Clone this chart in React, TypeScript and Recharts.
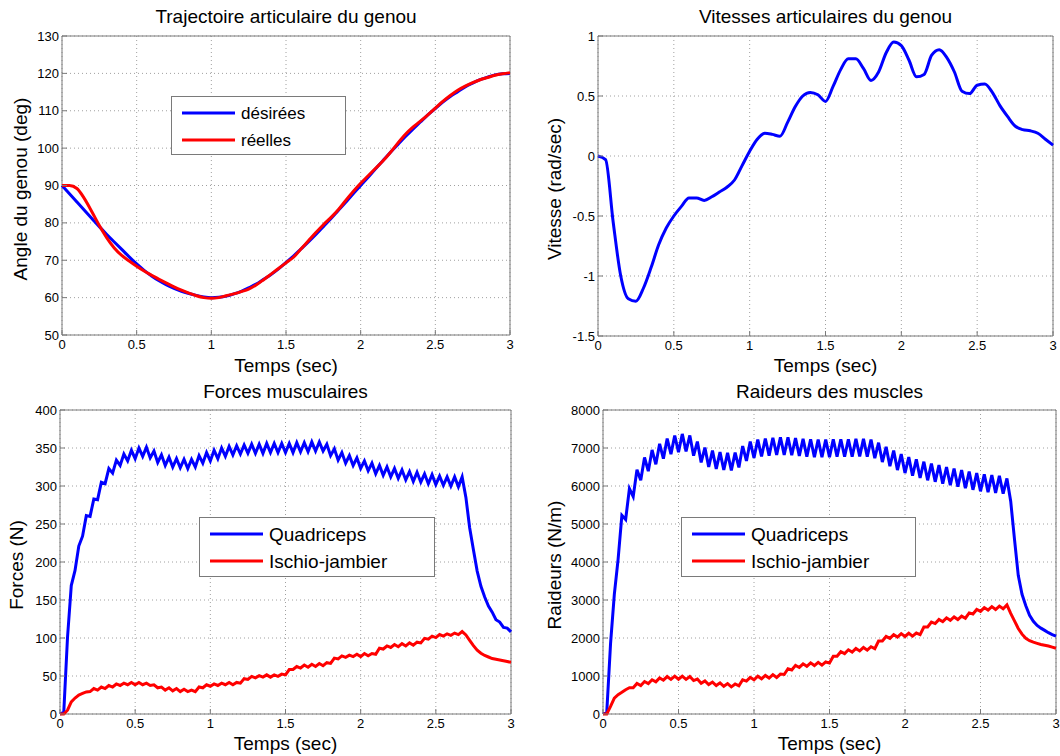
import React from 'react';
import { LineChart, Line, XAxis, YAxis, CartesianGrid, ReferenceArea, Legend } from 'recharts';

const FONT = '"Liberation Sans", Arial, Helvetica, sans-serif';

// ---- tick labels ----
const timeTicks = [0, 0.5, 1, 1.5, 2, 2.5, 3];
const angleTicks = [50, 60, 70, 80, 90, 100, 110, 120, 130];
const velocityTicks = [-1.5, -1, -0.5, 0, 0.5, 1];
const forceTicks = [0, 50, 100, 150, 200, 250, 300, 350, 400];
const stiffTicks = [0, 1000, 2000, 3000, 4000, 5000, 6000, 7000, 8000];

// sampling steps of the series (seconds)
const COARSE_STEP = 0.05;
const FINE_STEP = 0.025;

// ---- knee angle (deg), every 0.05 s ----
const angleDesired = [
  90, 87.8, 85.6, 83.4, 81.2, 79, 76.9, 74.9, 72.9, 70.9,
  69.0, 67.3, 65.8, 64.5, 63.4, 62.5, 61.7, 61.1, 60.6, 60.2,
  60, 60.1, 60.4, 61.0, 61.7, 62.6, 63.6, 64.9, 66.2, 67.7,
  69.4, 71.1, 73.0, 74.9, 76.9, 79.0, 81.1, 83.3, 85.5, 87.8,
  90, 92.2, 94.5, 96.7, 98.9, 101, 103.1, 105.1, 107, 108.9,
  110.6, 112.3, 113.8, 115.1, 116.4, 117.4, 118.3, 119, 119.6, 119.9,
  120,
];
const angleActual = [
  90, 90, 89.2, 86.5, 83, 79.3, 76, 73.3, 71.3, 69.8,
  68.4, 67.1, 66, 64.9, 63.9, 62.9, 62, 61.2, 60.5, 60,
  59.8, 60, 60.5, 61, 61.6, 62.3, 63.4, 64.8, 66.3, 67.8,
  69.3, 70.8, 73, 75.2, 77.4, 79.5, 81.4, 83.5, 86, 88.4,
  90.6, 92.6, 94.6, 96.6, 98.9, 101.4, 103.7, 105.6, 107.2, 108.9,
  110.7, 112.5, 114.1, 115.5, 116.6, 117.5, 118.3, 118.9, 119.5, 119.9,
  120.2,
];

// ---- knee velocity (rad/sec), every 0.05 s ----
const velocity = [
  0, -0.03, -0.55, -1.0, -1.19, -1.21, -1.1, -0.93, -0.74, -0.6,
  -0.5, -0.42, -0.35, -0.35, -0.37, -0.34, -0.3, -0.26, -0.2, -0.08,
  0.04, 0.14, 0.19, 0.18, 0.165, 0.28, 0.41, 0.5, 0.53, 0.51,
  0.455, 0.58, 0.72, 0.81, 0.81, 0.73, 0.63, 0.7, 0.86, 0.95,
  0.92, 0.8, 0.66, 0.68, 0.84, 0.885, 0.82, 0.7, 0.54, 0.52,
  0.59, 0.6, 0.53, 0.42, 0.33, 0.25, 0.22, 0.21, 0.19, 0.14,
  0.09,
];

// ---- muscle forces (N), every 0.025 s ----
const quadForce = [
  0, 2, 101, 169, 189, 221, 234, 261, 260, 283,
  282, 305, 303, 323, 317, 334, 327, 342, 333, 347,
  336, 350, 339, 351, 337, 346, 331, 341, 327, 338,
  325, 336, 324, 335, 323, 335, 325, 340, 330, 344,
  333, 347, 336, 350, 339, 352, 341, 353, 342, 354,
  343, 355, 343, 355, 343, 356, 344, 356, 344, 356,
  344, 356, 344, 357, 345, 357, 345, 358, 346, 358,
  346, 355, 340, 349, 334, 344, 330, 340, 327, 337,
  323, 333, 320, 330, 316, 327, 314, 325, 312, 323,
  310, 321, 308, 319, 306, 318, 305, 316, 303, 315,
  302, 313, 301, 312, 300, 312, 299, 312, 285, 245,
  216, 188, 168, 154, 142, 134, 124, 121, 114, 113,
  108,
];
const ischioForce = [
  0, 0, 5, 16, 21, 25, 27, 29, 29.5, 33.5,
  31.5, 35.5, 33.5, 37.5, 35.5, 39.5, 37.5, 40.5, 38.5, 41.5,
  38.5, 41.5, 38.5, 40.5, 37.5, 38.5, 34.5, 35.5, 31.5, 34.5,
  30.5, 33.5, 29.5, 32.5, 29.5, 31.5, 29.5, 35.5, 34.5, 38.5,
  36.5, 39.5, 37.5, 40.5, 38.5, 41.5, 38.5, 41.5, 40.5, 46.5,
  45.5, 49.5, 47.5, 50.5, 48.5, 51.5, 48.5, 51.5, 49.5, 52.5,
  51.5, 58.5, 58.5, 62.5, 60.5, 64.5, 61.5, 65.5, 62.5, 66.5,
  63.5, 67.5, 66.5, 73.5, 72.5, 76.5, 74.5, 77.5, 75.5, 78.5,
  75.5, 79.5, 76.5, 79.5, 78.5, 86.5, 85.5, 89.5, 87.5, 91.5,
  88.5, 92.5, 89.5, 93.5, 90.5, 94.5, 93.5, 99.5, 98.5, 102.5,
  100.5, 104.5, 102.5, 105.5, 103.5, 106.5, 104.5, 108.5, 104, 97,
  90, 84, 80, 77, 75, 73, 72, 71, 70, 69,
  68,
];

// ---- muscle stiffness (N/m), every 0.025 s ----
const quadStiff = [
  0, 50, 1850, 3150, 4070, 5230, 5120, 5930, 5720, 6430,
  6150, 6750, 6390, 6950, 6570, 7110, 6720, 7250, 6840, 7330,
  6890, 7370, 6910, 7330, 6800, 7170, 6620, 7010, 6500, 6930,
  6450, 6890, 6420, 6870, 6410, 6880, 6490, 7050, 6660, 7170,
  6740, 7220, 6780, 7250, 6800, 7270, 6820, 7280, 6820, 7280,
  6810, 7260, 6790, 7240, 6770, 7230, 6760, 7220, 6760, 7220,
  6760, 7230, 6770, 7230, 6770, 7230, 6770, 7240, 6780, 7240,
  6770, 7220, 6730, 7140, 6630, 7030, 6520, 6930, 6420, 6840,
  6340, 6760, 6270, 6700, 6210, 6640, 6150, 6590, 6110, 6550,
  6060, 6500, 6020, 6460, 5980, 6420, 5940, 6380, 5900, 6340,
  5860, 6310, 5840, 6290, 5820, 6270, 5800, 6200, 5600, 4600,
  3650, 3150, 2850, 2600, 2440, 2330, 2260, 2200, 2140, 2090,
  2050,
];
const ischioStiff = [
  0, 0, 200, 420, 510, 570, 640, 690, 690, 805,
  750, 855, 800, 900, 845, 950, 890, 985, 910, 995,
  915, 995, 910, 985, 880, 920, 810, 870, 775, 840,
  750, 820, 730, 800, 715, 790, 740, 900, 865, 965,
  900, 995, 925, 1015, 945, 1035, 960, 1050, 1040, 1190,
  1160, 1280, 1225, 1320, 1255, 1345, 1275, 1360, 1285, 1370,
  1340, 1520, 1520, 1640, 1590, 1690, 1630, 1725, 1660, 1750,
  1680, 1770, 1720, 1920, 1920, 2040, 1990, 2090, 2025, 2115,
  2040, 2125, 2050, 2130, 2090, 2290, 2290, 2420, 2380, 2490,
  2430, 2530, 2465, 2555, 2485, 2575, 2520, 2660, 2630, 2750,
  2700, 2800, 2735, 2825, 2750, 2840, 2770, 2870, 2650, 2450,
  2250, 2100, 1990, 1930, 1890, 1860, 1830, 1810, 1790, 1760,
  1730,
];

type Row = { [k: string]: number };
const buildRows = (step: number, series: Record<string, number[]>): Row[] => {
  const keys = Object.keys(series);
  const n = series[keys[0]].length;
  return Array.from({ length: n }, (_, i) => {
    const row: Row = { t: Math.round(i * step * 1000) / 1000 };
    keys.forEach((k) => (row[k] = series[k][i]));
    return row;
  });
};

const angleRows = buildRows(COARSE_STEP, { desired: angleDesired, actual: angleActual });
const velocityRows = buildRows(COARSE_STEP, { v: velocity });
const forceRows = buildRows(FINE_STEP, { quad: quadForce, ischio: ischioForce });
const stiffRows = buildRows(FINE_STEP, { quad: quadStiff, ischio: ischioStiff });

const BLUE = '#0000ff';
const RED = '#ff0000';
const FRAME = '#7a7a7a';

type LineSpec = { key: string; name: string; color: string; curve: 'monotone' | 'linear' };
type LegendSpec = { left: number; top: number; width: number; height: number; fontSize: number };

const W = 530;
const H = 378;

const makeLegendContent = (fontSize: number, order: string[]) => (props: any) => {
  const payload = [...((props && props.payload) || [])].sort(
    (a: any, b: any) => order.indexOf(String(a.dataKey)) - order.indexOf(String(b.dataKey))
  );
  return (
    <div
      style={{
        position: 'relative',
        width: '100%',
        height: '100%',
        boxSizing: 'border-box',
        border: `1px solid ${FRAME}`,
        background: '#fff',
        fontFamily: FONT,
      }}
    >
      {payload.map((p: any, i: number) => (
        <div
          key={i}
          style={{
            position: 'absolute',
            left: 10,
            top: 16 + i * 27,
            transform: 'translateY(-50%)',
            display: 'flex',
            alignItems: 'center',
            whiteSpace: 'nowrap',
          }}
        >
          <div style={{ width: 53, height: 3, background: p.color }} />
          <span style={{ marginLeft: 6, fontSize, lineHeight: 1, color: '#000' }}>{p.value}</span>
        </div>
      ))}
    </div>
  );
};

type PanelProps = {
  left: number;
  top: number;
  title: string;
  yLabel: string;
  data: Row[];
  domain: [number, number];
  ticks: number[];
  lines: LineSpec[];
  margin: { top: number; right: number; bottom: number; left: number };
  legend?: LegendSpec;
  yLabelX: number;
  titleY: number;
  xLabelY: number;
};

function Panel(p: PanelProps) {
  const plotLeft = p.margin.left + 40;
  const plotRight = W - p.margin.right;
  const plotTop = p.margin.top;
  const plotBottom = H - p.margin.bottom - 30;
  const cx = (plotLeft + plotRight) / 2;
  const cy = (plotTop + plotBottom) / 2;
  const tickStyle = { fontSize: 13, fill: '#000', fontFamily: FONT };
  const textBase: React.CSSProperties = {
    position: 'absolute',
    fontFamily: FONT,
    fontSize: 19,
    lineHeight: '14px',
    color: '#000',
    whiteSpace: 'nowrap',
  };
  return (
    <div style={{ position: 'absolute', left: p.left, top: p.top, width: W, height: H }}>
      <LineChart width={W} height={H} data={p.data} margin={p.margin}>
        <CartesianGrid stroke="#a0a0a0" strokeDasharray="1 3" />
        <ReferenceArea
          x1={0}
          x2={3}
          y1={p.domain[0]}
          y2={p.domain[1]}
          fill="none"
          stroke={FRAME}
          strokeWidth={1}
          ifOverflow="visible"
        />
        <XAxis
          dataKey="t"
          type="number"
          domain={[0, 3]}
          ticks={timeTicks}
          interval={0}
          axisLine={false}
          tickLine={{ stroke: FRAME }}
          tickSize={-5}
          tickMargin={10}
          height={30}
          tick={tickStyle}
        />
        <YAxis
          type="number"
          domain={p.domain}
          ticks={p.ticks}
          interval={0}
          axisLine={false}
          tickLine={{ stroke: FRAME }}
          tickSize={-5}
          tickMargin={8}
          width={40}
          tick={tickStyle}
        />
        {p.legend && (
          <Legend
            layout="vertical"
            align="center"
            verticalAlign="middle"
            wrapperStyle={{
              left: p.legend.left,
              top: p.legend.top,
              width: p.legend.width,
              height: p.legend.height,
            }}
            content={makeLegendContent(p.legend.fontSize, p.lines.map((l) => l.key))}
          />
        )}
        {p.lines.map((l) => (
          <Line
            key={l.key}
            dataKey={l.key}
            name={l.name}
            stroke={l.color}
            strokeWidth={3}
            type={l.curve}
            dot={false}
            activeDot={false}
            isAnimationActive={false}
          />
        ))}
      </LineChart>
      <div style={{ ...textBase, left: cx, top: p.titleY, transform: 'translate(-50%, -50%)' }}>{p.title}</div>
      <div style={{ ...textBase, left: cx, top: p.xLabelY, transform: 'translate(-50%, -50%)' }}>Temps (sec)</div>
      <div
        style={{
          ...textBase,
          left: p.yLabelX,
          top: cy + 3,
          transform: 'translate(-50%, -50%) rotate(-90deg)',
        }}
      >
        {p.yLabel}
      </div>
    </div>
  );
}

export default function App() {
  return (
    <div style={{ position: 'absolute', left: 0, top: 0, width: 1060, height: 756, background: '#fff', overflow: 'hidden' }}>
      <Panel
        left={0}
        top={0}
        title="Trajectoire articulaire du genou"
        yLabel="Angle du genou (deg)"
        data={angleRows}
        domain={[50, 130]}
        ticks={angleTicks}
        lines={[
          { key: 'desired', name: 'désirées', color: BLUE, curve: 'monotone' },
          { key: 'actual', name: 'réelles', color: RED, curve: 'monotone' },
        ]}
        margin={{ top: 36, right: 20, bottom: 13, left: 22 }}
        legend={{ left: 171, top: 96, width: 175, height: 59, fontSize: 17 }}
        yLabelX={21}
        titleY={17}
        xLabelY={366}
      />
      <Panel
        left={530}
        top={0}
        title="Vitesses articulaires du genou"
        yLabel="Vitesse (rad/sec)"
        data={velocityRows}
        domain={[-1.5, 1]}
        ticks={velocityTicks}
        lines={[{ key: 'v', name: 'Vitesse', color: BLUE, curve: 'monotone' }]}
        margin={{ top: 36, right: 7, bottom: 12, left: 28 }}
        yLabelX={25}
        titleY={17}
        xLabelY={366}
      />
      <Panel
        left={0}
        top={378}
        title="Forces musculaires"
        yLabel="Forces (N)"
        data={forceRows}
        domain={[0, 400]}
        ticks={forceTicks}
        lines={[
          { key: 'quad', name: 'Quadriceps', color: BLUE, curve: 'linear' },
          { key: 'ischio', name: 'Ischio-jambier', color: RED, curve: 'linear' },
        ]}
        margin={{ top: 32, right: 19, bottom: 12, left: 20 }}
        legend={{ left: 199, top: 139, width: 236, height: 60, fontSize: 19 }}
        yLabelX={17}
        titleY={14}
        xLabelY={366}
      />
      <Panel
        left={530}
        top={378}
        title="Raideurs des muscles"
        yLabel="Raideurs (N/m)"
        data={stiffRows}
        domain={[0, 8000]}
        ticks={stiffTicks}
        lines={[
          { key: 'quad', name: 'Quadriceps', color: BLUE, curve: 'linear' },
          { key: 'ischio', name: 'Ischio-jambier', color: RED, curve: 'linear' },
        ]}
        margin={{ top: 32, right: 4, bottom: 12, left: 33 }}
        legend={{ left: 151, top: 139, width: 235, height: 60, fontSize: 19 }}
        yLabelX={25}
        titleY={14}
        xLabelY={366}
      />
    </div>
  );
}
